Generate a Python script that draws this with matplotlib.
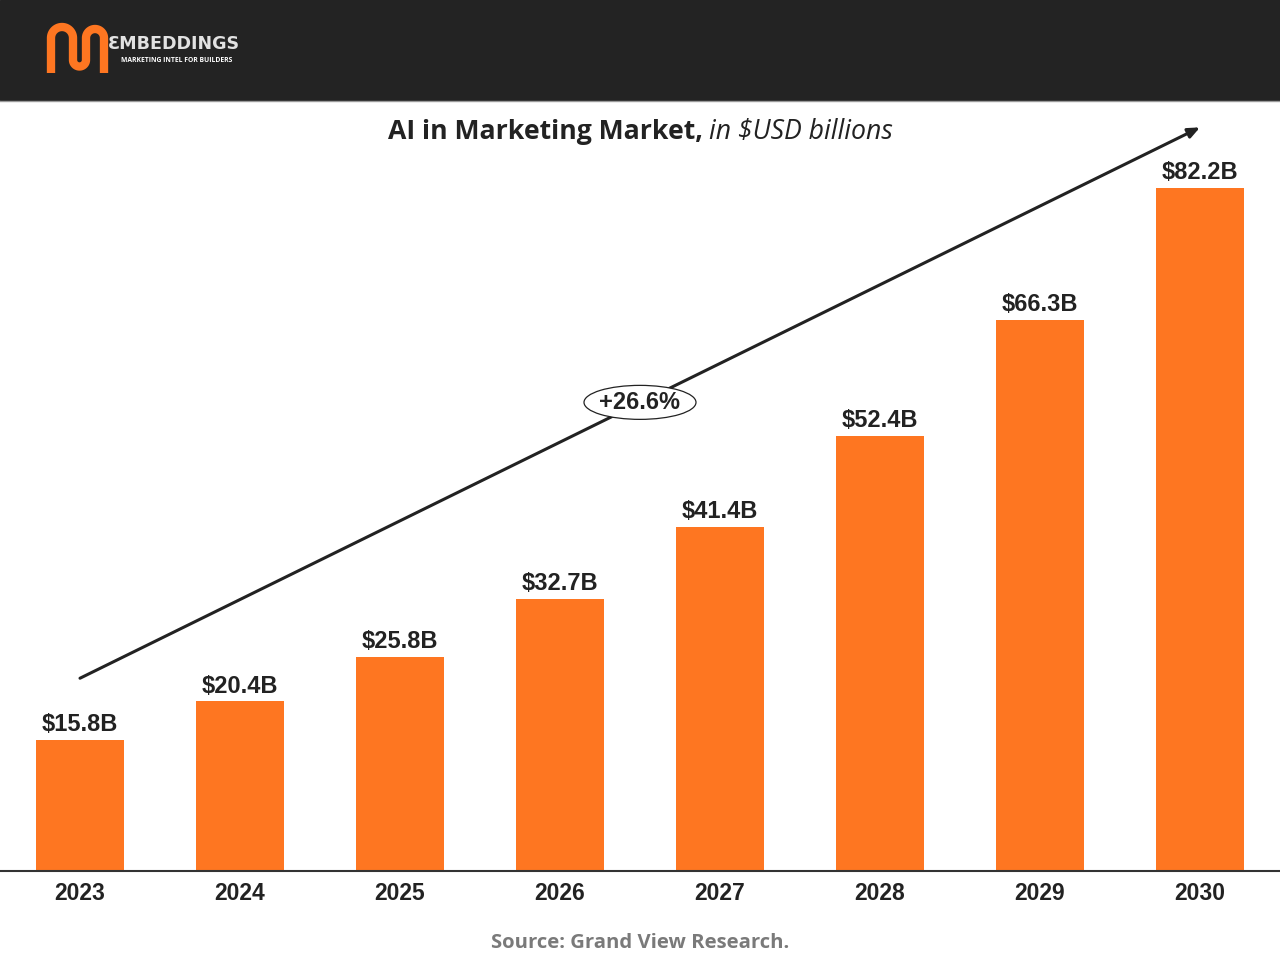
import matplotlib

matplotlib.use("Agg")

import numpy as np  # noqa: E402
import matplotlib.pyplot as plt  # noqa: E402
from matplotlib.patches import Ellipse, Rectangle  # noqa: E402

# chart data
years = ["2023", "2024", "2025", "2026", "2027", "2028", "2029", "2030"]
market_usd_b = [15.8, 20.4, 25.8, 32.7, 41.4, 52.4, 66.3, 82.2]
cagr_label = "+26.6%"
title_bold = "AI in Marketing Market,"
title_italic = "in $USD billions"
source_text = "Source: Grand View Research."

BAR_COLOR = "#FE7621"
DARK = "#222222"
HEADER = "#232323"

W, H = 1280, 960
fig = plt.figure(figsize=(W / 100, H / 100), dpi=100)
fig.patch.set_facecolor("white")

# pixel overlay for header, logo, title and source
ov = fig.add_axes([0, 0, 1, 1])
ov.set_xlim(0, W)
ov.set_ylim(H, 0)
ov.axis("off")
ov.patch.set_alpha(0)
ov.add_patch(Rectangle((0, 0), W, 100, color=HEADER, zorder=0))
ov.plot([0, W], [100.5, 100.5], color="#9a9a9a", lw=1.0, zorder=1)


def arc(cx, cy, r, a0, a1, n=40):
    t = np.radians(np.linspace(a0, a1, n))
    return cx + r * np.cos(t), cy - r * np.sin(t)


# logo glyph: n-u-n stroke
xs, ys = [51, 51], [73, 38]
ax_, ay_ = arc(62, 38, 11, 180, 0)
xs += list(ax_); ys += list(ay_)
xs += [73]; ys += [60]
ax_, ay_ = arc(79.5, 60, 6.5, 180, 360)
xs += list(ax_); ys += list(ay_)
xs += [86]; ys += [38]
ax_, ay_ = arc(95, 38, 9, 180, 0)
xs += list(ax_); ys += list(ay_)
xs += [104]; ys += [73]
ov.plot(xs, ys, color=BAR_COLOR, lw=6.0, solid_capstyle="butt",
        solid_joinstyle="round", zorder=2)
ov.text(108, 44, "ƐMBEDDINGS", color="#e2e2e2", fontsize=12.6,
        family="DejaVu Sans", fontweight="bold", ha="left", va="center", zorder=2)
ov.text(121, 61, "MARKETING INTEL FOR BUILDERS", color="white", fontsize=4.9,
        family="Open Sans", fontweight="bold", ha="left", va="center", zorder=2)

ov.text(703, 132, title_bold, color=DARK, fontsize=19.2, family="Open Sans",
        fontweight="bold", ha="right", va="center")
ov.text(709, 132, title_italic, color=DARK, fontsize=19.2, family="Open Sans",
        style="italic", ha="left", va="center")
ov.text(640, 943, source_text, color="#7a7a7a", fontsize=14.6, family="Open Sans",
        fontweight="bold", ha="center", va="center")

# main bar axes: baseline at y=871 px, top at y=100 px
px_per_unit = (871 - 188) / 82.2
ax = fig.add_axes([0, (H - 871) / H, 1, (871 - 100) / H])
ax.patch.set_alpha(0)
ax.set_xlim(-0.5, len(years) - 0.5)
ax.set_ylim(0, (871 - 100) / px_per_unit)

x = np.arange(len(years))
bars = ax.bar(x, market_usd_b, width=0.55, color=BAR_COLOR, zorder=2)
for rect, v in zip(bars, market_usd_b):
    ax.annotate(f"${v}B", (rect.get_x() + rect.get_width() / 2, v),
                xytext=(0, 2.8), textcoords="offset points", ha="center",
                va="bottom", fontsize=17, fontweight="bold",
                family="Liberation Sans", color=DARK)

ax.set_xticks(x)
ax.set_xticklabels(years, fontsize=16.5, fontweight="bold",
                   family="Liberation Sans", color=DARK)
ax.tick_params(axis="x", length=0, pad=8)
ax.set_yticks([])
for side in ("top", "left", "right"):
    ax.spines[side].set_visible(False)
ax.spines["bottom"].set_color("#333333")
ax.spines["bottom"].set_linewidth(1.5)

# growth arrow with CAGR badge
arrow_start = (0, 23.2)
arrow_end = (7, 89.5)
ax.annotate("", xy=arrow_end, xytext=arrow_start,
            arrowprops=dict(arrowstyle="-|>,head_length=0.7,head_width=0.3",
                            color=DARK, lw=2.2, shrinkA=0, shrinkB=0), zorder=3)
mid = ((arrow_start[0] + arrow_end[0]) / 2, 56.4)
ax.add_patch(Ellipse(mid, 0.7, 34 / px_per_unit, facecolor="white",
                     edgecolor=DARK, lw=0.9, zorder=4))
ax.text(mid[0], mid[1], cagr_label, ha="center", va="center", fontsize=17,
        fontweight="bold", family="Liberation Sans", color=DARK, zorder=5)

fig.savefig("out.png", dpi=100)
